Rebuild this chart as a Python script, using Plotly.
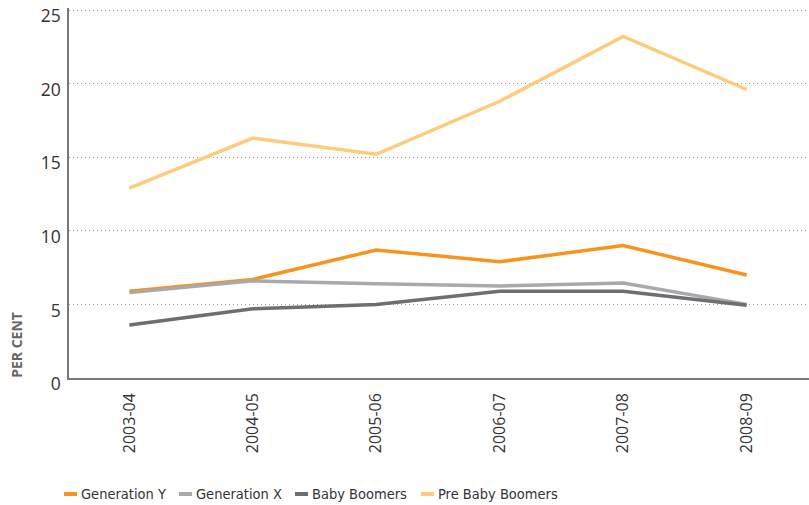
import plotly.graph_objects as go

years = ["2003-04", "2004-05", "2005-06", "2006-07", "2007-08", "2008-09"]
gen_y = [5.9, 6.7, 8.7, 7.9, 9.0, 7.0]
gen_x = [5.8, 6.6, 6.4, 6.25, 6.45, 5.0]
baby_boomers = [3.6, 4.7, 5.0, 5.9, 5.9, 4.95]
pre_baby_boomers = [12.9, 16.3, 15.2, 18.8, 23.2, 19.6]

series_names = ["Generation Y", "Generation X", "Baby Boomers", "Pre Baby Boomers"]
series_values = [gen_y, gen_x, baby_boomers, pre_baby_boomers]
series_colors = ["#F7941D", "#A7A9AC", "#6D6E71", "#FDCB7B"]

# layout geometry (figure pixels); page body margin removed below
W, H = 809, 505
ML, MR, MT, MB = 69, 0, 8, 127
PW, PH = W - ML - MR, H - MT - MB

def px_x(fx):
    return (fx - ML) / PW

def px_y(fy):
    return (H - MB - fy) / PH

fig = go.Figure()
for name, vals, color in zip(series_names, series_values, series_colors):
    fig.add_trace(go.Scatter(x=years, y=vals, name=name, mode="lines",
                             line=dict(color=color, width=3.5), showlegend=False))

# custom compact legend (short swatches like the original)
legend_swatch_x = [64, 179, 295, 421]
legend_y = 494
for name, color, sx in zip(series_names, series_colors, legend_swatch_x):
    fig.add_shape(type="line", xref="paper", yref="paper",
                  x0=px_x(sx), x1=px_x(sx + 13), y0=px_y(legend_y), y1=px_y(legend_y),
                  line=dict(color=color, width=4))
    fig.add_annotation(text=name, xref="paper", yref="paper",
                       x=px_x(sx + 15), y=px_y(legend_y), xanchor="left", yanchor="middle",
                       showarrow=False,
                       font=dict(family="DejaVu Sans Condensed", size=14.5, color="#333333"))

fig.update_layout(
    width=W, height=H,
    margin=dict(l=ML, r=MR, t=MT, b=MB, autoexpand=False),
    paper_bgcolor="white", plot_bgcolor="white",
    showlegend=False,
    font=dict(family="Open Sans", color="#333333"),
)
fig.update_xaxes(
    type="category", range=[-0.489, 5.505], automargin=False,
    tickangle=-90, tickfont=dict(size=16, color="#333333"),
    showline=True, linecolor="#7a7a7a", linewidth=1.5,
    showgrid=False, ticks="", ticklabelstandoff=7,
)
fig.update_yaxes(
    range=[0, 25.136], tickvals=[0, 5, 10, 15, 20, 25], automargin=False,
    tickfont=dict(size=17.5, color="#333333"), ticklabeloverflow="allow",
    ticklabelshift=6,
    showline=True, linecolor="#7a7a7a", linewidth=1.5,
    showgrid=True, gridcolor="#9a9a9a", griddash="1px,3px", gridwidth=1.2,
    zeroline=False, ticks="", ticklabelstandoff=3,
)
fig.add_annotation(text="<b>PER CENT</b>", textangle=-90, xref="paper", yref="paper",
                   x=px_x(17), y=-0.005, xanchor="center", yanchor="bottom", showarrow=False,
                   font=dict(family="Open Sans", size=14, color="#666666"))

fig.write_html("out.html", post_script="document.body.style.margin='0';",
               config={"displayModeBar": False})
